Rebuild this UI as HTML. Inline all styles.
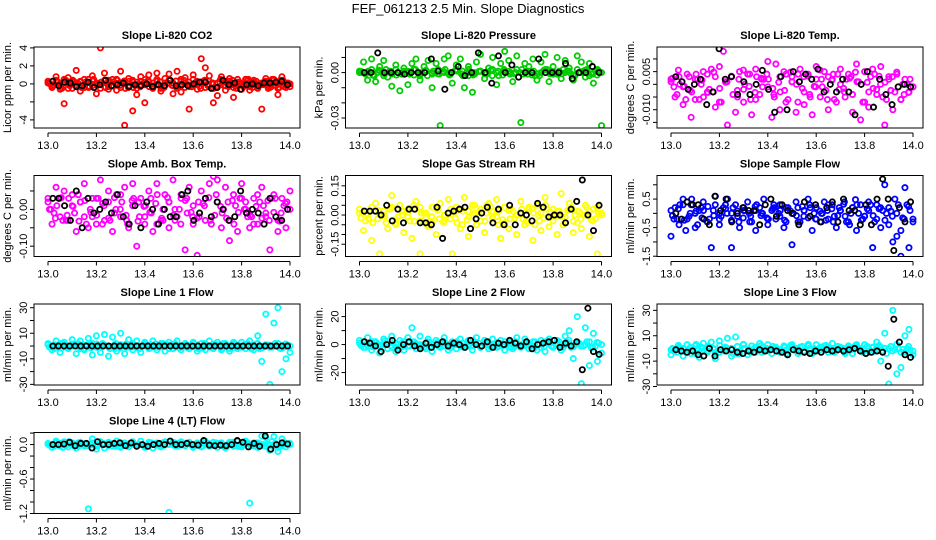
<!DOCTYPE html>
<html><head><meta charset="utf-8">
<style>
html,body{margin:0;padding:0;background:#fff;}
svg{display:block;font-family:"Liberation Sans",sans-serif;}
</style></head>
<body>
<svg id="chart" width="936" height="540" viewBox="0 0 936 540" xmlns="http://www.w3.org/2000/svg">
<rect x="0" y="0" width="936" height="540" fill="#fff"/>
<text x="468" y="13" text-anchor="middle" font-size="13">FEF_061213  2.5 Min. Slope Diagnostics</text>
</svg>
<script>
const xTicks = [13.0, 13.2, 13.4, 13.6, 13.8, 14.0];
const xTickLabels = ["13.0", "13.2", "13.4", "13.6", "13.8", "14.0"];

const co2Main = [0.3,-0.4,0.8,-0.6,-2.2,0.7,-0.5,1.5,-0.8,0.5,-0.3,0.9,-1.1,4.0,1.2,-0.6,0.5,-0.7,1.4,-4.6,0.6,-3.0,-1.2,0.8,-2.1,1.0,-0.5,1.2,-0.8,0.6,1.1,-1.1,1.4,-0.9,0.7,-2.8,1.0,-0.6,2.8,1.8,0.9,-2.1,-1.3,0.8,-0.7,0.6,-1.5,0.5,-0.6,0.5,-0.7,0.4,-0.5,-2.8,0.6,-0.4,0.5,-1.2,0.8,-0.4,-0.3];
const co2Dense = [0.1,-0.3,0.4,-0.2,0.5,-0.5,0.2,-0.1,0.3,-0.4,0.5,-0.2,0.1,-0.5,0.4,-0.3,0.2,0.5,-0.4,0.1,-0.2,0.4,-0.5,0.3,-0.1,0.2,-0.4,0.5,-0.3,0.1,0.4,-0.2,-0.5,0.3,0.1,-0.3,0.5,-0.1,0.2,-0.4,0.3,-0.5,0.1,0.4,-0.2,0.3,-0.4,0.2,-0.1,0.5,-0.3,0.2,-0.4,0.1,0.3,-0.2,0.4,-0.5,0.2,-0.1,0.0];
const co2Black = [0.3,-0.2,0.2,0.1,-0.3,-0.2,0.2,-0.4,-0.1,0.4,-0.2,-0.1,0.1,-0.3,-0.1,-0.2,0.0,-0.3,-0.1,-0.2,0.4,-0.2,-0.1,-0.2,0.0,0.2,0.2,-0.5,-0.4,0.4,-0.1,0.1,-0.6,-0.1,0.0,-0.2,0.1,0.1,0.2,0.3,-0.1];
const co2Ticks = [-4,-2,0,2,4];
const co2TickLabels = ["-4","","0","2","4"];

const presMain = [0.0,0.007,-0.005,0.009,-0.006,0.004,0.008,-0.003,-0.009,0.005,-0.012,0.003,-0.008,0.006,0.009,-0.005,0.004,0.008,-0.010,0.006,-0.035,0.009,0.011,-0.007,0.005,0.009,-0.010,0.004,-0.013,0.007,0.012,-0.004,0.003,0.010,-0.008,0.006,0.014,0.008,-0.006,0.011,-0.033,0.006,0.004,0.009,-0.005,0.007,0.012,-0.006,0.004,0.010,-0.004,0.008,0.003,-0.005,0.011,0.007,-0.003,0.006,-0.007,0.002,-0.035];
const presDense = [0.001,-0.001,0.002,0.0,-0.002,0.001,0.002,-0.001,0.0,0.002,-0.002,0.001,-0.001,0.002,0.0,-0.001,0.002,0.001,-0.002,0.0,0.001,-0.001,0.002,-0.002,0.001,0.0,0.002,-0.001,0.001,-0.002,0.0,0.002,-0.001,0.001,0.0,-0.001,0.002,0.001,-0.002,0.001,0.0];
const presBlack = [0.0,0.0,0.013,0.0,0.0,0.0,-0.001,0.0,0.0,0.0,0.009,0.001,-0.011,0.0,0.004,-0.002,0.0,0.013,0.0,-0.007,0.011,0.0,0.005,-0.003,0.0,0.0,0.009,0.0,0.0,0.0,0.006,-0.004,0.0,0.0,0.004,0.0];
const presTicks = [-0.03,-0.02,-0.01,0.0,0.01];
const presTickLabels = ["-0.03","","","0.00",""];

const tempMain = [0.001,-0.005,0.003,-0.008,0.004,-0.013,0.002,-0.006,0.005,-0.003,0.006,-0.009,0.007,0.013,-0.016,0.003,-0.011,0.005,-0.007,0.004,-0.012,0.006,-0.004,0.002,0.009,-0.013,0.008,-0.010,0.005,-0.006,0.003,-0.011,0.006,-0.008,0.004,-0.012,0.007,-0.005,0.005,-0.010,0.002,-0.007,0.006,-0.003,0.004,-0.011,0.008,-0.014,0.005,-0.009,0.006,-0.004,0.007,-0.016,0.003,-0.010,0.004,-0.006,0.002,-0.003,-0.001];
const tempDense = [0.002,-0.004,-0.001,0.003,-0.006,0.0,0.004,-0.003,-0.007,0.001,0.003,-0.005,-0.002,0.004,-0.006,0.002,-0.001,-0.004,0.003,-0.007,0.001,0.004,-0.003,-0.005,0.002,-0.001,0.003,-0.006,0.0,0.002,-0.004,0.001,-0.007,0.003,-0.002,-0.005,0.002,-0.003,-0.006,0.0,-0.001];
const tempBlack = [0.003,0.001,-0.002,0.0,0.002,-0.008,-0.003,0.014,0.002,0.003,-0.004,0.001,-0.004,0.0,0.0055,-0.002,-0.011,0.003,-0.010,0.005,0.001,0.004,0.002,0.006,-0.003,0.0,-0.003,0.002,-0.003,-0.012,0.0,0.005,-0.009,0.002,-0.004,-0.008,-0.001,0.0,-0.001];
const tempTicks = [-0.015,-0.010,-0.005,0.0,0.005,0.010];
const tempTickLabels = ["","-0.010","","","0.005",""];

const boxMain = [0.03,-0.04,0.06,-0.02,0.05,-0.03,0.04,-0.06,0.02,0.07,-0.05,0.03,-0.04,0.08,-0.03,0.05,-0.06,0.04,-0.02,0.06,-0.05,0.07,-0.10,0.03,-0.04,0.05,-0.06,0.07,-0.03,0.04,-0.05,0.08,-0.02,0.03,-0.11,0.06,-0.04,-0.125,0.05,-0.03,0.07,0.09,0.08,-0.05,0.06,-0.085,0.04,-0.06,0.07,0.02,-0.05,0.03,-0.04,0.06,-0.02,-0.11,0.04,-0.06,0.03,-0.05,0.05];
const boxDense = [0.02,-0.01,0.03,-0.03,0.01,0.04,-0.02,0.0,0.03,-0.04,0.02,-0.01,0.04,-0.03,0.01,0.02,-0.02,0.03,-0.04,0.0,0.02,-0.03,0.04,-0.01,0.01,-0.02,0.03,-0.04,0.02,0.0,-0.03,0.01,0.03,-0.02,-0.04,0.02,-0.01,0.03,-0.03,0.01,0.0];
const boxBlack = [0.03,0.03,0.01,-0.03,0.05,-0.05,0.03,-0.01,0.0,0.02,-0.01,0.04,-0.02,-0.04,0.01,-0.05,0.02,0.0,-0.04,0.0,-0.02,-0.02,0.04,0.05,-0.03,-0.01,0.03,-0.02,0.02,0.0,-0.03,-0.02,0.05,-0.01,0.0,-0.01,-0.04,0.03,-0.02,-0.03,0.0];
const boxTicks = [-0.10,-0.05,0.0,0.05];
const boxTickLabels = ["-0.10","","0.00",""];

const rhMain = [0.03,-0.08,0.0,-0.13,0.06,-0.2,0.02,-0.07,0.10,-0.04,0.05,-0.09,0.03,-0.12,0.07,-0.2,0.01,-0.06,0.04,-0.10,0.06,-0.03,0.08,-0.2,0.02,-0.07,0.09,-0.11,0.05,-0.05,0.03,-0.09,0.06,-0.02,0.08,-0.12,0.04,-0.07,0.02,-0.10,0.07,-0.05,0.03,-0.13,0.05,-0.08,0.09,-0.06,0.03,-0.10,0.11,-0.04,0.06,-0.09,0.02,-0.07,0.05,-0.11,0.03,-0.2,0.0];
const rhDense = [0.01,-0.03,0.04,-0.02,0.0,0.03,-0.05,0.02,-0.01,0.05,-0.03,0.01,-0.04,0.03,0.0,-0.02,0.04,-0.05,0.02,0.01,-0.03,0.05,-0.01,0.02,-0.04,0.03,0.0,-0.02,0.04,-0.05,0.01,0.03,-0.03,0.02,-0.01,0.04,-0.04,0.0,0.02,-0.02,0.01];
const rhBlack = [0.02,0.02,0.02,0.0,0.05,-0.03,0.03,-0.04,0.03,0.03,-0.04,-0.04,-0.05,0.04,-0.12,0.01,0.02,0.03,0.04,-0.07,-0.02,0.01,0.04,-0.04,0.03,-0.05,0.05,-0.05,0.01,0.0,-0.03,0.06,0.04,-0.01,0.0,0.0,-0.04,0.03,0.07,0.18,0.0,-0.08,0.05];
const rhTicks = [-0.15,-0.10,-0.05,0.0,0.05,0.10,0.15];
const rhTickLabels = ["-0.15","","","0.00","","","0.15"];

const flowMain = [-0.8,0.2,-0.4,0.5,-0.2,0.3,-0.5,0.1,0.4,-0.3,-1.2,0.6,-0.4,0.2,0.5,-1.2,0.3,-0.5,0.1,0.4,-0.3,-0.6,0.2,0.5,-0.4,0.1,-0.2,0.3,-0.5,0.2,-1.1,0.4,-0.3,0.1,0.5,-0.6,0.2,-0.3,0.4,-0.2,0.3,-0.5,0.1,0.4,-0.3,0.2,-0.6,0.3,-0.1,0.4,-1.2,0.3,-0.5,1.0,0.2,-1.0,-0.8,-1.5,0.9,-1.2,-0.3];
const flowDense = [0.1,-0.2,0.3,-0.1,0.0,0.2,-0.3,0.1,-0.2,0.3,0.0,-0.1,0.2,-0.3,0.1,0.0,-0.2,0.3,-0.1,0.2,0.0,-0.3,0.1,0.2,-0.2,0.0,0.3,-0.1,0.1,-0.3,0.2,0.0,-0.1,0.3,-0.2,0.1,-0.4,0.5,-0.6,0.3,-0.2];
const flowBlack = [0.0,-0.2,0.4,0.3,0.3,-0.2,-0.4,0.6,0.1,0.5,-0.3,0.0,0.2,0.1,0.1,-0.4,0.3,0.5,-0.1,0.3,0.1,0.0,-0.4,0.4,-0.1,0.3,-0.3,0.2,0.4,-0.3,0.5,0.1,0.1,-0.4,0.3,-0.4,0.5,1.2,0.5,-1.3,0.2,-0.3,0.4];
const flowTicks = [-1.5,-1.0,-0.5,0.0,0.5,1.0];
const flowTickLabels = ["-1.5","","-0.5","","0.5",""];

const l1Main = [2,-3,4,-5,3,-2,5,-6,4,-3,6,-7,8,-5,9,-8,7,-4,10,-6,5,-3,4,-5,3,-2,4,-3,2,-4,3,-2,4,-3,2,-2,3,-4,2,-3,4,-2,3,-3,2,-4,3,-2,3,-2,4,-3,8,-12,25,-30,18,30,-20,-10,-5];
const l1Dense = [1,-2,2,-1,0,2,-2,1,-1,2,0,-2,1,-1,2,-2,0,1,-1,2,-2,1,0,-1,2,-2,1,-1,0,2,-2,1,-1,2,0,-2,1,-1,2,-1,0];
const l1Black = [0,0,0,0,0,0,0,0,0,0,0,0,0,0,0,0,0,0,0,0,0,0,0,0,0,0,0,0,0,0,0,0,0,0,0,0,0,0,0,0,0,0,0];
const l1Ticks = [-30,-20,-10,0,10,20,30];
const l1TickLabels = ["-30","","-10","","10","","30"];

const l2Main = [3,-2,5,-4,2,-6,4,-3,6,-5,3,-4,5,12,-3,6,-2,4,-5,3,-2,5,-4,2,-3,4,-2,3,-4,5,-2,3,-3,4,-2,3,-4,2,-3,5,-2,4,-3,2,-4,3,-5,4,-2,3,-4,6,10,-10,20,-28,12,-15,8,-12,-6];
const l2Dense = [1,-2,2,-1,0,3,-2,1,-1,2,0,-3,1,-1,2,-2,0,1,-1,2,-2,1,0,-1,2,-2,1,-1,0,2,-2,1,-1,2,0,-2,1,-1,2,-1,0];
const l2Black = [2,1,-1,-5,0,3,-4,0,2,-1,-3,1,-2,0,2,-1,1,0,-2,3,0,-1,2,-2,1,0,3,1,-1,2,-3,0,1,2,3,-2,1,-1,2,-18,26,-5,-7];
const l2Ticks = [-20,-10,0,10,20];
const l2TickLabels = ["-20","","0","","20"];

const l3Main = [-5,-2,1,-6,3,-4,2,-7,4,-3,5,-8,6,-2,8,-6,9,-4,3,-5,2,-3,4,-2,3,-4,1,-3,2,-5,3,-2,1,-3,2,-4,3,-1,2,-3,4,-2,1,-3,2,-4,3,-2,3,-2,1,5,-10,12,-28,30,-20,-15,10,15,-5];
const l3Dense = [-1,-3,0,-2,-4,1,-2,0,-3,1,-1,-4,0,-2,1,-3,-1,0,-2,-4,1,-1,-3,0,-2,1,-1,-3,0,-2,-4,0,-1,-3,1,-2,0,-1,-3,0,-2];
const l3Black = [-1,-2,-3,-2,-5,-6,0,-6,-1,-2,-1,-3,-4,-2,-3,-1,-2,-1,-2,-3,-5,-1,-2,-3,-4,-2,-3,-1,-2,-1,-2,-1,0,-2,-4,-3,-2,-3,-14,23,5,-5,-7];
const l3Ticks = [-30,-20,-10,0,10,20,30];
const l3TickLabels = ["-30","","-10","","10","","30"];

const l4Main = [0.02,-0.05,0.06,-0.03,0.05,-0.04,0.03,-0.06,0.04,-0.02,-1.12,0.10,-0.08,0.05,-0.06,0.04,-0.03,0.06,-0.05,0.03,-0.04,0.05,-0.03,0.06,-0.05,0.04,-0.06,0.03,-0.04,0.05,-1.18,0.04,-0.03,0.05,-0.02,0.04,-0.05,0.03,-0.04,0.06,-0.03,0.04,-0.05,0.03,-0.06,0.04,-0.03,0.05,-0.04,0.06,-1.02,0.03,-0.05,0.15,0.12,-0.10,0.14,-0.12,0.10,-0.04,0.02];
const l4Dense = [0.01,-0.03,0.02,-0.01,0.0,0.03,-0.02,0.01,-0.03,0.02,0.0,-0.01,0.03,-0.02,0.01,0.0,-0.03,0.02,-0.01,0.03,0.0,-0.02,0.01,0.03,-0.03,0.0,0.02,-0.01,0.01,-0.03,0.02,0.0,-0.01,0.03,-0.02,0.01,-0.03,0.05,-0.05,0.04,0.0];
const l4Black = [0.0,0.0,0.01,0.04,-0.02,0.02,0.02,-0.06,0.05,0.0,0.0,0.02,0.03,-0.02,0.03,-0.03,0.0,-0.03,0.0,0.02,0.0,0.06,0.0,0.0,0.02,0.0,-0.01,0.07,-0.01,-0.02,-0.01,-0.02,0.0,0.07,0.04,-0.04,0.02,-0.03,0.15,-0.08,0.0,0.03,0.01];
const l4Ticks = [-1.2,-1.0,-0.8,-0.6,-0.4,-0.2,0.0,0.2];
const l4TickLabels = ["-1.2","","","-0.6","","","0.0",""];

const panels = [
 {name:"co2", title:"Slope Li-820 CO2", ylab:"Licor ppm per min.", col:0,row:0, ymin:-4.9, ymax:4.1, color:"#ff0000", main:co2Main, dense:co2Dense, black:co2Black, ticks:co2Ticks, labels:co2TickLabels},
 {name:"pressure", title:"Slope Li-820 Pressure", ylab:"kPa per min.", col:1,row:0, ymin:-0.0366, ymax:0.0169, color:"#00cc00", main:presMain, dense:presDense, black:presBlack, ticks:presTicks, labels:presTickLabels},
 {name:"li820-temp", title:"Slope Li-820 Temp.", ylab:"degrees C per min.", col:2,row:0, ymin:-0.0172, ymax:0.0147, color:"#ff00ff", main:tempMain, dense:tempDense, black:tempBlack, ticks:tempTicks, labels:tempTickLabels},
 {name:"box-temp", title:"Slope Amb. Box Temp.", ylab:"degrees C per min.", col:0,row:1, ymin:-0.128, ymax:0.092, color:"#ff00ff", main:boxMain, dense:boxDense, black:boxBlack, ticks:boxTicks, labels:boxTickLabels},
 {name:"gas-rh", title:"Slope Gas Stream RH", ylab:"percent per min.", col:1,row:1, ymin:-0.213, ymax:0.203, color:"#ffff00", main:rhMain, dense:rhDense, black:rhBlack, ticks:rhTicks, labels:rhTickLabels},
 {name:"sample-flow", title:"Slope Sample Flow", ylab:"ml/min per min.", col:2,row:1, ymin:-1.51, ymax:1.325, color:"#0000ff", main:flowMain, dense:flowDense, black:flowBlack, ticks:flowTicks, labels:flowTickLabels},
 {name:"line1-flow", title:"Slope Line 1 Flow", ylab:"ml/min per min.", col:0,row:2, ymin:-30.5, ymax:32.9, color:"#00ffff", main:l1Main, dense:l1Dense, black:l1Black, ticks:l1Ticks, labels:l1TickLabels},
 {name:"line2-flow", title:"Slope Line 2 Flow", ylab:"ml/min per min.", col:1,row:2, ymin:-28.9, ymax:29.0, color:"#00ffff", main:l2Main, dense:l2Dense, black:l2Black, ticks:l2Ticks, labels:l2TickLabels},
 {name:"line3-flow", title:"Slope Line 3 Flow", ylab:"ml/min per min.", col:2,row:2, ymin:-28.8, ymax:35.0, color:"#00ffff", main:l3Main, dense:l3Dense, black:l3Black, ticks:l3Ticks, labels:l3TickLabels},
 {name:"line4-flow", title:"Slope Line 4 (LT) Flow", ylab:"ml/min per min.", col:0,row:3, ymin:-1.2, ymax:0.21, color:"#00ffff", main:l4Main, dense:l4Dense, black:l4Black, ticks:l4Ticks, labels:l4TickLabels}
];

const NS = "http://www.w3.org/2000/svg";
const svg = document.getElementById("chart");
function mk(tag, attrs, parent){
  const e = document.createElementNS(NS, tag);
  for (const k in attrs) e.setAttribute(k, attrs[k]);
  parent.appendChild(e);
  return e;
}
panels.forEach(p => {
  const L = 34 + 311.5*p.col, T = 47 + 128.5*p.row, W = 266, H = 81;
  const x0 = L + 14, x1 = L + 256;
  const sx = v => x0 + (v - 13.0) * (x1 - x0);
  const sy = v => T + (p.ymax - v) / (p.ymax - p.ymin) * H;
  const g = mk("g", {}, svg);
  
  
  const t = mk("text", {x: L + W/2, y: T - 8, "text-anchor": "middle", "font-size": "11", "font-weight": "bold"}, g);
  t.textContent = p.title;
  
  
  const clipId = "clip-" + p.name;
  const cp = mk("clipPath", {id: clipId}, g);
  mk("rect", {x: L, y: T, width: W, height: H}, cp);
  const pts = mk("g", {"clip-path": "url(#" + clipId + ")", fill: "none"}, g);
  
  
  const dot = (xv, v, col) => {
    const c = mk("circle", {cx: sx(xv), cy: sy(v), r: 2.6, stroke: col, "stroke-width": 1.8}, pts);
    
    
  };
  const n = p.dense.length;
  p.dense.forEach((v, i) => {
    dot(13.0 + i / (n - 1), v, p.color);
  });
  p.dense.forEach((v, i) => {
    dot(13.0 + (i + 0.5) / n, p.dense[n - 1 - i], p.color);
  });
  p.dense.forEach((v, i) => {
    dot(13.0 + (i + 0.25) / n, -p.dense[(i + 7) % n] * 0.8, p.color);
  });
  p.main.forEach((v, i) => {
    dot(13.0 + i / (p.main.length - 1), v, p.color);
  });
  p.black.forEach((v, i) => {
    const xv = 13.02 + 0.97 * i / (p.black.length - 1);
    const c = mk("circle", {cx: sx(xv), cy: sy(v), r: 2.6, stroke: "#000", "stroke-width": 1.8}, pts);
    
    
  });
  const box = mk("rect", {x: L, y: T, width: W, height: H, fill: "none", stroke: "#000", "stroke-width": 1}, g);
  
  
  const xa = mk("g", {}, g);
  
  
  const ay = T + H + 5;
  mk("line", {x1: sx(xTicks[0]), x2: sx(xTicks[xTicks.length-1]), y1: ay, y2: ay, stroke: "#000"}, xa);
  xTicks.forEach((v, i) => {
    mk("line", {x1: sx(v), x2: sx(v), y1: ay, y2: ay + 4, stroke: "#000"}, xa);
    const lt = mk("text", {x: sx(v), y: ay + 16, "text-anchor": "middle", "font-size": "11"}, xa);
    lt.textContent = xTickLabels[i];
  });
  const ya = mk("g", {}, g);
  
  
  p.ticks.forEach((v, i) => {
    const y = sy(v);
    mk("line", {x1: L - 4, x2: L, y1: y, y2: y, stroke: "#000"}, ya);
    if (p.labels[i]) {
      const lt = mk("text", {x: 0, y: 0, "text-anchor": "middle", "font-size": "11", transform: "translate(" + (L - 7) + "," + y + ") rotate(-90)"}, ya);
      lt.textContent = p.labels[i];
    }
  });
  const yt = mk("text", {x: 0, y: 0, "text-anchor": "middle", "font-size": "11", transform: "translate(" + (L - 23) + "," + (T + H/2) + ") rotate(-90)"}, g);
  yt.textContent = p.ylab;
  
  
});
</script>
</body></html>
